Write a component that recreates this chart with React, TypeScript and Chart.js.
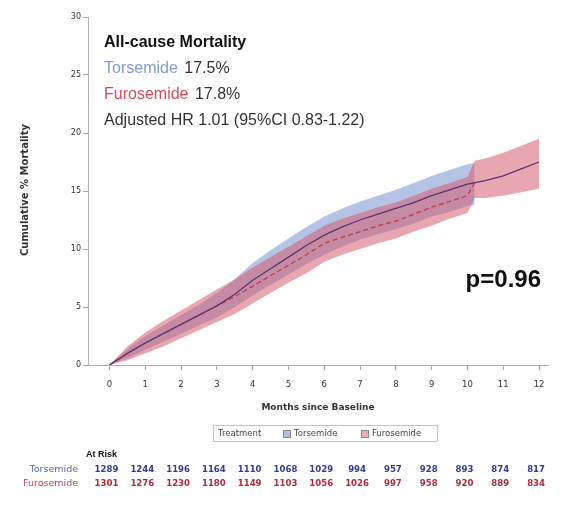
import React, { useEffect, useRef } from "react";
import { Chart, registerables } from "chart.js";
Chart.register(...registerables);

// ---- data ----
const X_TICKS = [0, 1, 2, 3, 4, 5, 6, 7, 8, 9, 10, 11, 12];
const Y_TICKS = [0, 5, 10, 15, 20, 25, 30];

const T_MONTHS = [0, 0.5, 1, 1.5, 2, 2.5, 3, 3.5, 4, 4.5, 5, 5.5, 6, 6.5, 7, 7.5, 8, 8.5, 9, 9.5, 10, 10.5, 11, 11.5, 12];
const TORSEMIDE_CUM = [0, 1.0, 1.9, 2.7, 3.5, 4.3, 5.1, 6.1, 7.3, 8.3, 9.3, 10.3, 11.2, 11.9, 12.5, 13.0, 13.5, 14.0, 14.6, 15.1, 15.6, 15.9, 16.3, 16.9, 17.5];

const T_BAND_MONTHS = [0, 0.5, 1, 1.5, 2, 2.5, 3, 3.5, 4, 4.5, 5, 5.5, 6, 6.5, 7, 7.5, 8, 8.5, 9, 9.5, 10, 10.2];
const T_UPPER = [0, 1.4, 2.5, 3.4, 4.3, 5.2, 6.2, 7.4, 8.8, 9.9, 10.9, 11.9, 12.8, 13.5, 14.1, 14.6, 15.1, 15.7, 16.3, 16.8, 17.3, 17.4];
const T_LOWER = [0, 0.6, 1.3, 2.0, 2.7, 3.4, 4.1, 5.0, 6.0, 6.9, 7.8, 8.7, 9.5, 10.2, 10.8, 11.3, 11.7, 12.2, 12.8, 13.2, 13.7, 13.8];

const F_MONTHS = [0, 0.5, 1, 1.5, 2, 2.5, 3, 3.5, 4, 4.5, 5, 5.5, 6, 6.5, 7, 7.5, 8, 8.5, 9, 9.5, 10, 10.2];
const FUROSEMIDE_CUM = [0, 1.0, 1.9, 2.7, 3.5, 4.3, 5.1, 5.9, 6.8, 7.7, 8.6, 9.5, 10.5, 11.0, 11.5, 12.0, 12.4, 13.0, 13.6, 14.1, 14.6, 15.7];

const F_BAND_MONTHS = [0, 0.5, 1, 1.5, 2, 2.5, 3, 3.5, 4, 4.5, 5, 5.5, 6, 6.5, 7, 7.5, 8, 8.5, 9, 9.5, 10, 10.2, 10.5, 11, 11.5, 12];
const F_UPPER = [0, 1.6, 2.8, 3.8, 4.7, 5.6, 6.5, 7.4, 8.4, 9.3, 10.2, 11.1, 12.0, 12.6, 13.1, 13.6, 14.0, 14.6, 15.2, 15.7, 16.2, 17.6, 17.8, 18.3, 18.9, 19.5];
const F_LOWER = [0, 0.4, 1.0, 1.6, 2.3, 3.0, 3.7, 4.4, 5.3, 6.2, 7.1, 7.9, 8.9, 9.5, 10.0, 10.5, 10.9, 11.5, 12.0, 12.6, 13.1, 14.4, 14.4, 14.6, 14.9, 15.2];

const AT_RISK_TORSEMIDE = [1289, 1244, 1196, 1164, 1110, 1068, 1029, 994, 957, 928, 893, 874, 817];
const AT_RISK_FUROSEMIDE = [1301, 1276, 1230, 1180, 1149, 1103, 1056, 1026, 997, 958, 920, 889, 834];

const pts = (xs: number[], ys: number[]) => xs.map((x, i) => ({ x, y: ys[i] }));

const BLUE_BAND = "rgba(120,146,205,0.55)";
const RED_BAND = "rgba(214,92,112,0.55)";

const overlay = {
  id: "overlay",
  afterDraw(chart: any) {
    const { ctx, scales } = chart;
    const xs = scales.x;
    ctx.save();
    ctx.textBaseline = "middle";

    // y title
    ctx.save();
    ctx.translate(25, 190);
    ctx.rotate(-Math.PI / 2);
    ctx.textAlign = "center";
    ctx.fillStyle = "#333";
    ctx.font = "bold 10px 'DejaVu Sans'";
    ctx.fillText("Cumulative % Mortality", 0, 0);
    ctx.restore();

    // x title
    ctx.textAlign = "center";
    ctx.fillStyle = "#333";
    ctx.font = "bold 9px 'DejaVu Sans'";
    ctx.fillText("Months since Baseline", (chart.chartArea.left + chart.chartArea.right) / 2, 408);

    // legend box
    ctx.strokeStyle = "#c4c4c4";
    ctx.lineWidth = 1;
    ctx.strokeRect(213.5, 425.5, 224, 16);
    ctx.textAlign = "left";
    ctx.font = "8.5px 'DejaVu Sans'";
    ctx.fillStyle = "#444";
    ctx.fillText("Treatment", 218, 434);
    ctx.fillStyle = "#b4c2e2";
    ctx.fillRect(283, 430, 7, 7);
    ctx.strokeStyle = "#888";
    ctx.strokeRect(283.5, 430.5, 7, 7);
    ctx.fillStyle = "#444";
    ctx.fillText("Torsemide", 294, 434);
    ctx.fillStyle = "#e8b4bc";
    ctx.fillRect(361, 430, 7, 7);
    ctx.strokeRect(361.5, 430.5, 7, 7);
    ctx.fillStyle = "#444";
    ctx.fillText("Furosemide", 372, 434);

    // at risk table
    ctx.fillStyle = "#111";
    ctx.font = "bold 9px 'Liberation Sans'";
    ctx.fillText("At Risk", 86, 455);
    ctx.textAlign = "right";
    ctx.font = "9.5px 'DejaVu Sans'";
    ctx.fillStyle = "#5565a8";
    ctx.fillText("Torsemide", 78, 470);
    ctx.fillStyle = "#b84656";
    ctx.fillText("Furosemide", 78, 484);
    ctx.textAlign = "center";
    ctx.font = "bold 9.5px 'Liberation Sans Narrow', 'DejaVu Sans Condensed', sans-serif";
    X_TICKS.forEach((m, i) => {
      const px = xs.getPixelForValue(m) - 3;
      ctx.fillStyle = "#2e3c92";
      ctx.fillText(String(AT_RISK_TORSEMIDE[i]), px, 470);
      ctx.fillStyle = "#b02a3c";
      ctx.fillText(String(AT_RISK_FUROSEMIDE[i]), px, 484);
    });

    // annotations
    ctx.textAlign = "left";
    ctx.font = "bold 16px 'Liberation Sans'";
    ctx.fillStyle = "#111";
    ctx.fillText("All-cause Mortality", 104, 43);
    ctx.font = "16px 'Liberation Sans'";
    ctx.fillStyle = "#7f9bd2";
    ctx.fillText("Torsemide", 104, 69);
    let w = ctx.measureText("Torsemide ").width;
    ctx.fillStyle = "#333";
    ctx.fillText("17.5%", 104 + w + 2, 69);
    ctx.fillStyle = "#d24c5a";
    ctx.fillText("Furosemide", 104, 95);
    w = ctx.measureText("Furosemide ").width;
    ctx.fillStyle = "#333";
    ctx.fillText("17.8%", 104 + w + 2, 95);
    ctx.fillText("Adjusted HR 1.01 (95%CI 0.83-1.22)", 104, 121);

    ctx.textAlign = "right";
    ctx.font = "bold 24px 'Liberation Sans'";
    ctx.fillStyle = "#111";
    ctx.fillText("p=0.96", 541, 280);
    ctx.restore();
  },
};

export default function App() {
  const ref = useRef<HTMLCanvasElement | null>(null);
  useEffect(() => {
    if (!ref.current) return;
    const chart = new Chart(ref.current, {
      type: "line",
      data: {
        datasets: [
          {
            label: "Torsemide",
            data: pts(T_MONTHS, TORSEMIDE_CUM),
            borderColor: "#5a3470",
            borderWidth: 1.3,
            pointRadius: 0,
            fill: false,
            order: 0,
          },
          {
            label: "Furosemide",
            data: pts(F_MONTHS, FUROSEMIDE_CUM),
            borderColor: "#c83a4c",
            borderWidth: 1.3,
            borderDash: [5, 3],
            pointRadius: 0,
            fill: false,
            order: 0,
          },
          {
            label: "T lower",
            data: pts(T_BAND_MONTHS, T_LOWER),
            borderWidth: 0,
            borderColor: "rgba(0,0,0,0)",
            pointRadius: 0,
            fill: false,
            order: 3,
          },
          {
            label: "T upper",
            data: pts(T_BAND_MONTHS, T_UPPER),
            borderWidth: 0,
            borderColor: "rgba(0,0,0,0)",
            backgroundColor: BLUE_BAND,
            pointRadius: 0,
            fill: "-1",
            order: 3,
          },
          {
            label: "F lower",
            data: pts(F_BAND_MONTHS, F_LOWER),
            borderWidth: 0,
            borderColor: "rgba(0,0,0,0)",
            pointRadius: 0,
            fill: false,
            order: 2,
          },
          {
            label: "F upper",
            data: pts(F_BAND_MONTHS, F_UPPER),
            borderWidth: 0,
            borderColor: "rgba(0,0,0,0)",
            backgroundColor: RED_BAND,
            pointRadius: 0,
            fill: "-1",
            order: 2,
          },
        ],
      },
      options: {
        animation: false,
        responsive: true,
        maintainAspectRatio: false,
        layout: { padding: { left: 8, right: 16, top: 17, bottom: 0 } },
        plugins: { legend: { display: false }, tooltip: { enabled: false } },
        elements: { line: { tension: 0 } },
        scales: {
          x: {
            type: "linear",
            min: -0.6,
            max: 12.25,
            afterBuildTicks: (s: any) => {
              s.ticks = X_TICKS.map((v) => ({ value: v }));
            },
            afterFit: (s: any) => {
              s.height = 140;
            },
            ticks: {
              color: "#333",
              font: { family: "'DejaVu Sans'", size: 8.5 },
              padding: 10,
              autoSkip: false,
              maxRotation: 0,
            },
            grid: { drawOnChartArea: false, drawTicks: true, tickLength: 5, color: "#aaa" },
            border: { display: true, color: "#b0b0b0" },
          },
          y: {
            type: "linear",
            min: 0,
            max: 30,
            afterBuildTicks: (s: any) => {
              s.ticks = Y_TICKS.map((v) => ({ value: v }));
            },
            afterFit: (s: any) => {
              s.width = 80;
            },
            ticks: {
              color: "#333",
              font: { family: "'DejaVu Sans'", size: 8 },
              padding: 2,
            },
            grid: { drawOnChartArea: false, drawTicks: true, tickLength: 5, color: "#aaa" },
            border: { display: true, color: "#b0b0b0" },
          },
        },
      },
      plugins: [overlay],
    });
    return () => chart.destroy();
  }, []);
  return (
    <div style={{ position: "fixed", left: 0, top: 0, width: 564, height: 505, background: "#fff" }}>
      <canvas ref={ref} />
    </div>
  );
}
